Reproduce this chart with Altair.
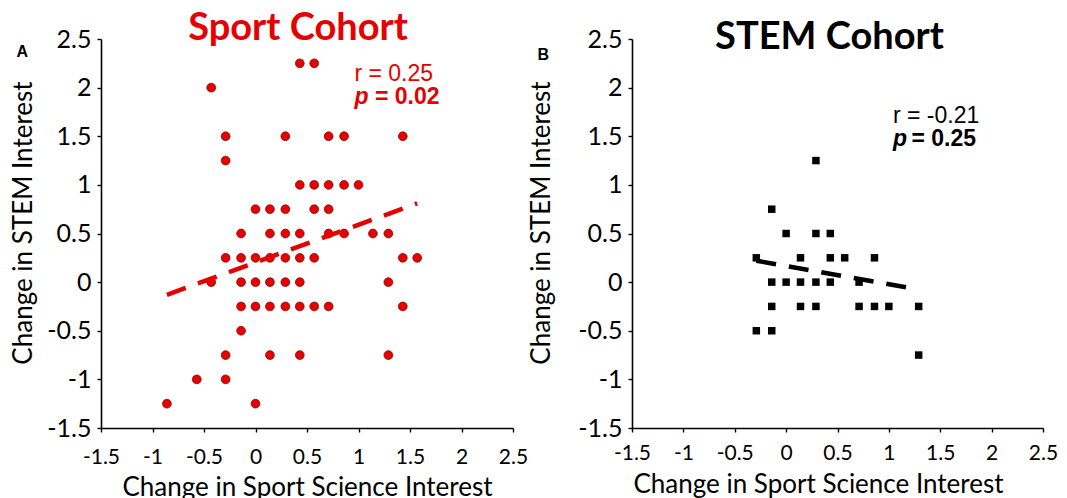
import altair as alt
import pandas as pd

# ---- data ----
sport_x = [0.43, 0.57,
           -0.43,
           -0.29, 0.29, 0.71, 0.86, 1.43,
           -0.29,
           0.43, 0.57, 0.71, 0.86, 1.0,
           0.0, 0.14, 0.29, 0.57, 0.71,
           -0.14, 0.14, 0.29, 0.43, 0.71, 0.86, 1.14, 1.29,
           -0.29, -0.14, 0.0, 0.14, 0.29, 0.43, 0.57, 1.43, 1.57,
           -0.43, -0.14, 0.0, 0.14, 0.29, 0.43, 1.29,
           -0.14, 0.0, 0.14, 0.29, 0.43, 0.57, 0.71, 1.43,
           -0.14,
           -0.29, 0.14, 0.43, 1.29,
           -0.57, -0.29,
           -0.86, 0.0]
sport_y = [2.25, 2.25,
           2.0,
           1.5, 1.5, 1.5, 1.5, 1.5,
           1.25,
           1.0, 1.0, 1.0, 1.0, 1.0,
           0.75, 0.75, 0.75, 0.75, 0.75,
           0.5, 0.5, 0.5, 0.5, 0.5, 0.5, 0.5, 0.5,
           0.25, 0.25, 0.25, 0.25, 0.25, 0.25, 0.25, 0.25, 0.25,
           0.0, 0.0, 0.0, 0.0, 0.0, 0.0, 0.0,
           -0.25, -0.25, -0.25, -0.25, -0.25, -0.25, -0.25, -0.25,
           -0.5,
           -0.75, -0.75, -0.75, -0.75,
           -1.0, -1.0,
           -1.25, -1.25]

stem_x = [0.29,
          -0.14,
          0.0, 0.29, 0.43,
          -0.29, 0.14, 0.43, 0.57, 0.86,
          -0.14, 0.0, 0.14, 0.29, 0.43, 0.71,
          -0.14, 0.14, 0.29, 0.71, 0.86, 1.0, 1.29,
          -0.29, -0.14,
          1.29]
stem_y = [1.25,
          0.75,
          0.5, 0.5, 0.5,
          0.25, 0.25, 0.25, 0.25, 0.25,
          0.0, 0.0, 0.0, 0.0, 0.0, 0.0,
          -0.25, -0.25, -0.25, -0.25, -0.25, -0.25, -0.25,
          -0.5, -0.5,
          -0.75]

sport_fit_x = [-0.86, 1.57]
sport_fit_y = [-0.13, 0.81]
stem_fit_x = [-0.29, 1.26]
stem_fit_y = [0.22, -0.07]

tick_values = [-1.5, -1, -0.5, 0, 0.5, 1, 1.5, 2, 2.5]

sport_r_text = ["r = 0.25"]
sport_p_text = ["p", "= 0.02"]
stem_r_text = ["r = -0.21"]
stem_p_text = ["p", "= 0.25"]

# annotation anchors (data units)
sport_r_pos = (0.96, 2.07)
sport_p_pos = ([0.96, 1.16], 1.83)
stem_r_pos = (1.04, 1.64)
stem_p_pos = ([1.04, 1.22], 1.40)
sport_letter_pos = (-2.32, 2.31)
stem_letter_pos = (-2.42, 2.28)

RED = "#e60000"
LABEL_FONT = "Lato"
ANN_FONT = "Liberation Sans"


def make_axes(height, x_label_pad, x_title_pad, y_title_pad, x_title_x=None):
    xa = dict(values=tick_values, labelExpr="toString(datum.value)", grid=False,
              domainColor="black", domainWidth=1.6, tickColor="black",
              tickSize=4, tickWidth=1.4, labelFont=LABEL_FONT, labelFontSize=21,
              labelColor="black", labelPadding=x_label_pad, labelFlush=False,
              labelOverlap=False, titleFont=LABEL_FONT, titleFontSize=26,
              titleFontWeight="normal", titleColor="black",
              titlePadding=x_title_pad,
              title="Change in Sport Science Interest")
    if x_title_x is not None:
        xa["titleX"] = x_title_x
    ya = dict(values=tick_values, labelExpr="toString(datum.value)", grid=False,
              domainColor="black", domainWidth=1.6, tickColor="black",
              tickSize=4, tickWidth=1.4, labelFont=LABEL_FONT, labelFontSize=25,
              labelColor="black", labelPadding=6, labelFlush=False,
              labelOverlap=False, titleFont=LABEL_FONT, titleFontSize=26,
              titleFontWeight="normal", titleColor="black",
              titlePadding=y_title_pad, titleY=height / 2 - 11,
              title="Change in STEM Interest")
    return alt.Axis(**xa), alt.Axis(**ya)


def panel(px, py, fx, fy, color, point_mark, r_text, r_pos, p_text, p_pos,
          letter, letter_pos, title, title_color, title_offset, title_dx,
          width, height, x_label_pad, x_title_pad, y_title_pad, x_title_x=None):
    xs = alt.Scale(domain=[-1.5, 2.5], nice=False, zero=False)
    ys = alt.Scale(domain=[-1.5, 2.5], nice=False, zero=False)
    xax, yax = make_axes(height, x_label_pad, x_title_pad, y_title_pad, x_title_x)

    pts_df = pd.DataFrame({"x": px, "y": py})
    base = alt.Chart(pts_df).encode(
        x=alt.X("x:Q", scale=xs, axis=xax),
        y=alt.Y("y:Q", scale=ys, axis=yax),
    )
    points = point_mark(base)

    fit = alt.Chart(pd.DataFrame({"x": fx, "y": fy})).mark_line(
        color=color, strokeWidth=4.5, strokeDash=[20, 13]
    ).encode(x=alt.X("x:Q", scale=xs), y=alt.Y("y:Q", scale=ys))

    r_df = pd.DataFrame({"x": [r_pos[0]], "y": [r_pos[1]], "t": r_text})
    r_mark = alt.Chart(r_df).mark_text(
        align="left", baseline="alphabetic", font=ANN_FONT, fontSize=23,
        color=color
    ).encode(x=alt.X("x:Q", scale=xs), y=alt.Y("y:Q", scale=ys), text="t:N")

    p_df = pd.DataFrame({"x": [p_pos[0][0]], "y": [p_pos[1]], "t": [p_text[0]]})
    p_mark = alt.Chart(p_df).mark_text(
        align="left", baseline="alphabetic", font=ANN_FONT, fontSize=23,
        fontWeight="bold", fontStyle="italic", color=color
    ).encode(x=alt.X("x:Q", scale=xs), y=alt.Y("y:Q", scale=ys), text="t:N")

    v_df = pd.DataFrame({"x": [p_pos[0][1]], "y": [p_pos[1]], "t": [p_text[1]]})
    v_mark = alt.Chart(v_df).mark_text(
        align="left", baseline="alphabetic", font=ANN_FONT, fontSize=23,
        fontWeight="bold", color=color
    ).encode(x=alt.X("x:Q", scale=xs), y=alt.Y("y:Q", scale=ys), text="t:N")

    l_df = pd.DataFrame({"x": [letter_pos[0]], "y": [letter_pos[1]], "t": [letter]})
    l_mark = alt.Chart(l_df).mark_text(
        align="left", baseline="alphabetic", font=ANN_FONT, fontSize=16,
        fontWeight="bold", color="black", clip=False
    ).encode(x=alt.X("x:Q", scale=xs), y=alt.Y("y:Q", scale=ys), text="t:N")

    return alt.layer(points, fit, r_mark, p_mark, v_mark, l_mark).properties(
        width=width, height=height,
        title=alt.TitleParams(title, font=LABEL_FONT, fontSize=38,
                              fontWeight="bold", color=title_color,
                              anchor="middle", frame="group",
                              baseline="alphabetic", offset=title_offset,
                              dx=title_dx),
    )


panel_a = panel(
    sport_x, sport_y, sport_fit_x, sport_fit_y, RED,
    lambda b: b.mark_circle(size=78, color=RED, stroke="#7a0000",
                            strokeWidth=0.7, opacity=1),
    sport_r_text, sport_r_pos, sport_p_text, sport_p_pos,
    "A", sport_letter_pos, "Sport Cohort", RED, -51, -9,
    412, 389, 14, 7, 10,
)

panel_b = panel(
    stem_x, stem_y, stem_fit_x, stem_fit_y, "black",
    lambda b: b.mark_square(size=56, color="black", opacity=1),
    stem_r_text, stem_r_pos, stem_p_text, stem_p_pos,
    "B", stem_letter_pos, "STEM Cohort", "black", -60, -8,
    411, 389, 10, 8, 23, 186,
)

chart = alt.hconcat(panel_a, panel_b, spacing=0).configure(
    padding={"left": 2, "top": 2, "right": 0, "bottom": 0}
).configure_view(stroke=None)

chart.save("out.html", embed_options={"renderer": "svg", "actions": False})
